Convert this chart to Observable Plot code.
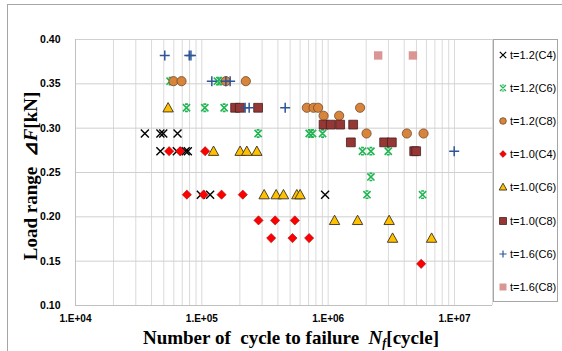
<!DOCTYPE html>
<html>
<head>
<meta charset="utf-8">
<script src="https://cdn.jsdelivr.net/npm/d3@7"></script>
<script src="https://cdn.jsdelivr.net/npm/@observablehq/plot@0.6"></script>
<style>
  html, body { margin: 0; padding: 0; background: #fff; }
  #wrap { position: relative; width: 562px; height: 351px; overflow: hidden; background: #fff; }
  #frame { position: absolute; left: 7px; top: 4px; width: 600px; height: 400px;
           border-left: 1px solid #a6a6a6; border-top: 1px solid #a6a6a6; }
  #chart { position: absolute; left: 0; top: 0; }
  #ytitle { position: absolute; left: 30px; top: 176px; transform: translate(-50%, -50%) rotate(-90deg);
            white-space: pre; font: bold 19px "Liberation Serif", "Times New Roman", serif; color: #000; }
  #xtitle { position: absolute; left: 291px; top: 327px; transform: translateX(-50%);
            white-space: pre; font: bold 19px "Liberation Serif", "Times New Roman", serif; color: #000; }
  #xtitle sub { font-size: 12px; font-style: italic; vertical-align: -3px; }
  #legend { position: absolute; left: 493px; top: 39px; width: 65px; height: 263px;
            border: 1px solid #a6a6a6; background: #fff; box-sizing: border-box; }
  .li { position: absolute; left: 0; height: 14px; display: flex; align-items: center;
        font: 11px "Liberation Sans", Arial, sans-serif; color: #000; white-space: nowrap; }
  .li svg { margin-left: 4px; margin-right: 2px; }
</style>
</head>
<body>
<div id="wrap">
  <div id="frame"></div>
  <div id="chart"></div>
  <div id="ytitle">Load range  ⊿<i>F</i>[kN]</div>
  <div id="xtitle">Number of  cycle to failure  <i>N</i><sub>f</sub>[cycle]</div>
  <div id="legend"></div>
</div>
<script>
// ---- data ----
const seriesNames = ["t=1.2(C4)", "t=1.2(C6)", "t=1.2(C8)", "t=1.0(C4)", "t=1.0(C6)", "t=1.0(C8)", "t=1.6(C6)", "t=1.6(C8)"];

const n12C4 = [35400, 47000, 49500, 64200, 47000, 63400, 74500, 77500, 98200, 116300, 946000];
const f12C4 = [0.294, 0.294, 0.294, 0.294, 0.274, 0.274, 0.274, 0.274, 0.225, 0.225, 0.225];

const n12C6 = [56100, 133000, 141400, 75600, 105600, 150200, 279000, 708000, 752000, 903000, 1870000, 2180000, 2990000, 2180000, 2030000, 5590000];
const f12C6 = [0.353, 0.353, 0.353, 0.323, 0.323, 0.323, 0.294, 0.294, 0.294, 0.294, 0.274, 0.274, 0.274, 0.245, 0.225, 0.225];

const n12C8 = [59700, 69100, 155000, 223000, 678000, 766000, 833000, 1790000, 920000, 1222000, 2014000, 4200000, 5690000];
const f12C8 = [0.353, 0.353, 0.353, 0.353, 0.323, 0.323, 0.323, 0.323, 0.314, 0.314, 0.294, 0.294, 0.294];

const n10C4 = [55100, 67300, 106200, 76100, 103200, 143300, 211000, 281000, 380500, 545000, 354000, 522000, 707000, 5450000];
const f10C4 = [0.274, 0.274, 0.274, 0.225, 0.225, 0.225, 0.225, 0.196, 0.196, 0.196, 0.176, 0.176, 0.176, 0.147];

const n10C6 = [54100, 123800, 201000, 227000, 272600, 311500, 387500, 443000, 565000, 600000, 1124000, 1709000, 3041000, 3236000, 6590000];
const f10C6 = [0.323, 0.274, 0.274, 0.274, 0.274, 0.225, 0.225, 0.225, 0.225, 0.225, 0.196, 0.196, 0.196, 0.176, 0.176];

const n10C8 = [183500, 200000, 279000, 920000, 1050000, 1245000, 1578000, 1513000, 2775000, 3193000, 4800000, 4977000];
const f10C8 = [0.323, 0.323, 0.323, 0.304, 0.304, 0.304, 0.304, 0.284, 0.284, 0.284, 0.274, 0.274];

const n16C6 = [50900, 79500, 82000, 120000, 155000, 167600, 220000, 237000, 457000, 9950000];
const f16C6 = [0.382, 0.382, 0.382, 0.353, 0.353, 0.353, 0.323, 0.323, 0.323, 0.274];

const n16C8 = [2488000, 4688000];
const f16C8 = [0.382, 0.382];

const xTicks = [1e4, 1e5, 1e6, 1e7];
const xTickLabels = ["1.E+04", "1.E+05", "1.E+06", "1.E+07"];
const yTicks = [0.10, 0.15, 0.20, 0.25, 0.30, 0.35, 0.40];

// ---- symbols ----
const rad = size => Math.sqrt(size / Math.PI);
const symCross = {draw(c, size) { const s = rad(size); c.moveTo(-s, -s); c.lineTo(s, s); c.moveTo(s, -s); c.lineTo(-s, s); }};
const symStar = {draw(c, size) { const s = rad(size); c.moveTo(-s, -s); c.lineTo(s, s); c.moveTo(s, -s); c.lineTo(-s, s);
  c.moveTo(-s * 0.4, -s); c.lineTo(s * 0.4, -s); c.moveTo(-s * 0.4, s); c.lineTo(s * 0.4, s); }};
const symCircle = {draw(c, size) { const s = rad(size); c.moveTo(s, 0); c.arc(0, 0, s, 0, 2 * Math.PI); }};
const symDiamond = {draw(c, size) { const s = rad(size); c.moveTo(0, -s); c.lineTo(s, 0); c.lineTo(0, s); c.lineTo(-s, 0); c.closePath(); }};
const symTriangle = {draw(c, size) { const s = rad(size); c.moveTo(0, -s); c.lineTo(s, s * 0.8); c.lineTo(-s, s * 0.8); c.closePath(); }};
const symSquare = {draw(c, size) { const s = rad(size); c.moveTo(-s, -s); c.lineTo(s, -s); c.lineTo(s, s); c.lineTo(-s, s); c.closePath(); }};
const symPlus = {draw(c, size) { const s = rad(size); c.moveTo(-s, 0); c.lineTo(s, 0); c.moveTo(0, -s); c.lineTo(0, s); }};

const styles = [
  {sym: symCross,    r: 4,   fill: "none",    stroke: "#000000", sw: 1.4, lr: 3.2},
  {sym: symStar,     r: 3.6, fill: "none",    stroke: "#21b553", sw: 1.6, lr: 3.0},
  {sym: symCircle,   r: 4.6, fill: "#d9843b", stroke: "#6e4a2c", sw: 0.8, lr: 3.3},
  {sym: symDiamond,  r: 4.6, fill: "#ff0000", stroke: "#9a1010", sw: 0.6, lr: 3.4},
  {sym: symTriangle, r: 5.2, fill: "#ffc000", stroke: "#3a3020", sw: 0.9, lr: 3.8},
  {sym: symSquare,   r: 4.4, fill: "#953735", stroke: "#4a2020", sw: 0.8, lr: 3.5},
  {sym: symPlus,     r: 5,   fill: "none",    stroke: "#2f5597", sw: 1.5, lr: 3.6},
  {sym: symSquare,   r: 4.2, fill: "#d99694", stroke: "none",    sw: 0,   lr: 3.5}
];

const seriesN = [n12C4, n12C6, n12C8, n10C4, n10C6, n10C8, n16C6, n16C8];
const seriesF = [f12C4, f12C6, f12C8, f10C4, f10C6, f10C8, f16C6, f16C8];

// minor log gridlines
const xGrid = [];
for (let e = 4; e <= 7; e++) for (let m = 1; m <= 9; m++) { const v = m * Math.pow(10, e); if (v <= 2e7) xGrid.push(v); }
xGrid.push(2e7);

const dotMarks = seriesN.map((ns, i) => {
  const st = styles[i];
  const data = ns.map((n, j) => ({n, f: seriesF[i][j]}));
  return Plot.dot(data, {x: "n", y: "f", symbol: st.sym, r: st.r, fill: st.fill, stroke: st.stroke, strokeWidth: st.sw});
});

const chart = Plot.plot({
  width: 562, height: 351,
  marginLeft: 75, marginRight: 70, marginTop: 39, marginBottom: 46,
  style: {background: "transparent", overflow: "visible", fontFamily: "'Liberation Sans', Arial, sans-serif", color: "#000"},
  x: {type: "log", domain: [1e4, 2e7], axis: null},
  y: {domain: [0.10, 0.40]},
  marks: [
    Plot.ruleX(xGrid, {stroke: "#dadada", strokeWidth: 1}),
    Plot.ruleY(yTicks, {stroke: "#d0d0d0", strokeWidth: 1}),
    Plot.ruleX([1e4], {stroke: "#c0c0c0"}),
    Plot.ruleY([0.10], {stroke: "#c0c0c0"}),
    Plot.text(xTicks, {x: d => d, text: (d, i) => xTickLabels[i], frameAnchor: "bottom", dy: 16,
                fontSize: 10, fontWeight: "bold", fill: "#000", fontFamily: "'Liberation Sans', Arial, sans-serif"}),
    Plot.axisY({ticks: yTicks, tickFormat: d => d.toFixed(2), tickSize: 0, tickPadding: 15, label: null,
                fontSize: 10.5, fontWeight: "bold", fill: "#000"}),
    ...dotMarks
  ]
});
document.getElementById("chart").appendChild(chart);

// legend
const legend = document.getElementById("legend");
seriesNames.forEach((name, i) => {
  const st = styles[i];
  const d = d3.symbol().type(st.sym).size(Math.PI * st.lr * st.lr)();
  const item = document.createElement("div");
  item.className = "li";
  item.style.top = (16 + i * 33.1 - 7 - 1) + "px";
  item.innerHTML = `<svg width="10" height="10" viewBox="-5 -5 10 10"><path d="${d}" fill="${st.fill}" stroke="${st.stroke}" stroke-width="${st.sw ? Math.min(st.sw, 1.2) : 0}"/></svg><span>${name}</span>`;
  legend.appendChild(item);
});
</script>
</body>
</html>
